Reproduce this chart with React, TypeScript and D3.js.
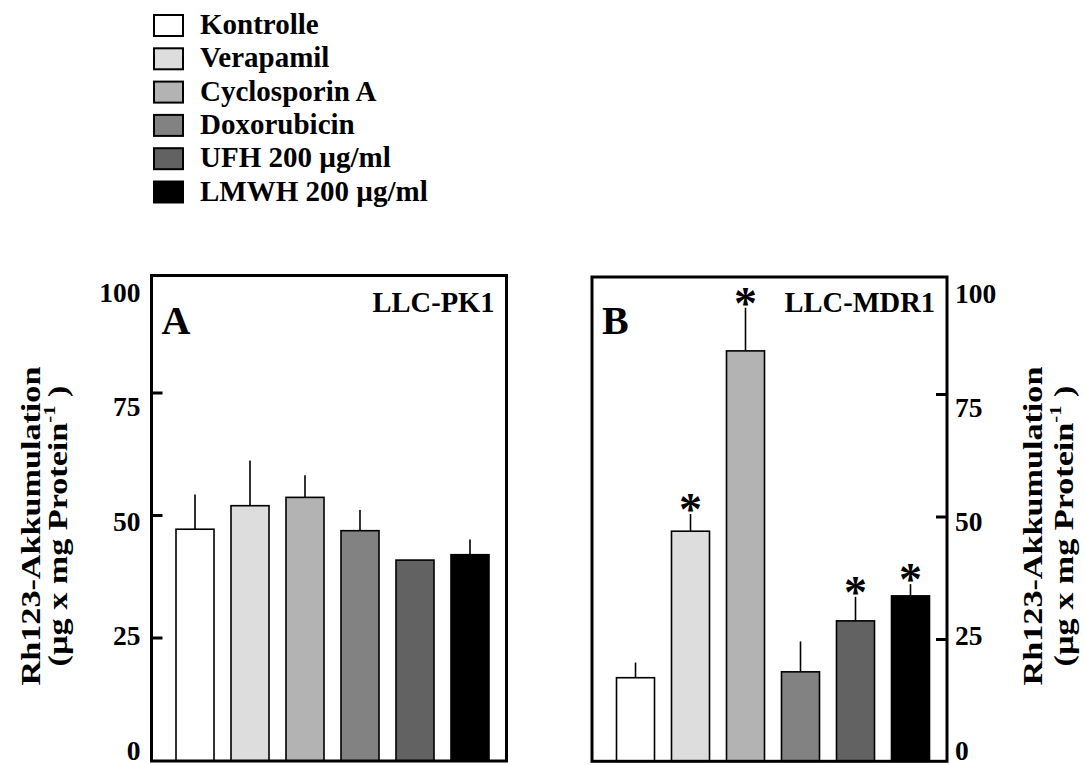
import React from 'react';
import * as d3 from 'd3';

const categories = ['Kontrolle', 'Verapamil', 'Cyclosporin A', 'Doxorubicin', 'UFH 200 µg/ml', 'LMWH 200 µg/ml'];
const colors = ['#ffffff', '#dddddd', '#b3b3b3', '#828282', '#626262', '#000000'];
const valuesA = [47.2, 52.0, 53.7, 46.9, 40.9, 42.0];
const errorsA = [7.1, 9.2, 4.5, 4.2, 0, 3.1];
const valuesB = [17.2, 47.1, 83.9, 18.4, 28.8, 33.9];
const errorsB = [3.1, 3.5, 8.8, 6.2, 4.9, 2.4];
const sigB = [false, true, true, false, true, true];
const tickValues = [0, 25, 50, 75, 100];
const innerTicks = [25, 50, 75];

const FONT = '"Liberation Serif", "Times New Roman", Times, serif';

type PanelProps = {
  left: number;
  right: number;
  top: number;
  bottom: number;
  y0: number;
  values: number[];
  errors: number[];
  sig: boolean[];
  letter: string;
  name: string;
  side: 'left' | 'right';
  labelRange: [number, number];
};

function Panel(p: PanelProps) {
  const y = d3.scaleLinear().domain([0, 100]).range([p.y0, p.y0 - 490]);
  const labelY = d3.scaleLinear().domain([0, 100]).range(p.labelRange);
  const x = d3
    .scaleBand<string>()
    .domain(categories)
    .range([p.left + 24.5, p.left + 24.5 + 313])
    .paddingInner(0.309)
    .paddingOuter(0);
  const bw = x.bandwidth();
  const tickLen = 11;
  return (
    <g>
      {categories.map((c, i) => {
        const v = p.values[i];
        const e = p.errors[i];
        const cx = (x(c) as number) + bw / 2;
        return (
          <g key={c}>
            {e > 0 && (
              <line x1={cx} x2={cx} y1={y(v)} y2={y(v + e)} stroke="#000" strokeWidth={1.6} />
            )}
            <rect
              x={x(c) as number}
              y={y(v)}
              width={bw}
              height={p.bottom - y(v)}
              fill={colors[i]}
              stroke="#000"
              strokeWidth={1.6}
            />
            {p.sig[i] && (
              <text
                x={cx}
                y={y(v + e) + 11}
                textAnchor="middle"
                fontFamily={FONT}
                fontWeight="bold"
                fontSize={46}
              >
                *
              </text>
            )}
          </g>
        );
      })}
      <rect
        x={p.left}
        y={p.top}
        width={p.right - p.left}
        height={p.bottom - p.top}
        fill="none"
        stroke="#000"
        strokeWidth={3}
      />
      {innerTicks.map((t) => (
        <line
          key={t}
          x1={p.side === 'left' ? p.left : p.right}
          x2={p.side === 'left' ? p.left + tickLen : p.right - tickLen}
          y1={y(t)}
          y2={y(t)}
          stroke="#000"
          strokeWidth={3}
        />
      ))}
      {tickValues.map((t) => (
        <text
          key={t}
          x={p.side === 'left' ? p.left - 11 : p.right + 8}
          y={labelY(t)}
          textAnchor={p.side === 'left' ? 'end' : 'start'}
          fontFamily={FONT}
          fontWeight="bold"
          fontSize={27.5}
        >
          {t}
        </text>
      ))}
      <text x={p.left + 10} y={334} fontFamily={FONT} fontWeight="bold" fontSize={40}>
        {p.letter}
      </text>
      <text
        x={p.right - 12}
        y={312}
        textAnchor="end"
        fontFamily={FONT}
        fontWeight="bold"
        fontSize={28.5}
      >
        {p.name}
      </text>
    </g>
  );
}

function YLabel({ x1, x2, cy }: { x1: number; x2: number; cy: number }) {
  return (
    <g fontFamily={FONT} fontWeight="bold" fontSize={28}>
      <text transform={`translate(${x1},${cy}) rotate(-90) scale(1.22,1)`} textAnchor="middle">
        Rh123-Akkumulation
      </text>
      <text transform={`translate(${x2},${cy}) rotate(-90) scale(1.22,1)`} textAnchor="middle">
        <tspan>(µg x mg Protein</tspan>
        <tspan fontSize={17} dy={-12}>-1</tspan>
        <tspan dy={12}> )</tspan>
      </text>
    </g>
  );
}

export default function App() {
  return (
    <svg
      width={1085}
      height={765}
      style={{ position: 'absolute', left: 0, top: 0, background: '#fff' }}
    >
      <rect width={1085} height={765} fill="#fff" />
      {categories.map((c, i) => (
        <g key={c}>
          <rect
            x={154}
            y={15 + i * 33.3}
            width={29}
            height={21}
            fill={colors[i]}
            stroke="#000"
            strokeWidth={2}
          />
          <text x={200} y={34 + i * 33.3} fontFamily={FONT} fontWeight="bold" fontSize={29}>
            {c}
          </text>
        </g>
      ))}
      <Panel
        left={151.5}
        right={506.5}
        top={275.5}
        bottom={761}
        y0={760.5}
        values={valuesA}
        errors={errorsA}
        sig={[false, false, false, false, false, false]}
        letter="A"
        name="LLC-PK1"
        side="left"
        labelRange={[759.5, 301.7]}
      />
      <Panel
        left={592}
        right={947}
        top={277}
        bottom={761.3}
        y0={762}
        values={valuesB}
        errors={errorsB}
        sig={sigB}
        letter="B"
        name="LLC-MDR1"
        side="right"
        labelRange={[759.5, 303.3]}
      />
      <YLabel x1={40} x2={67} cy={526} />
      <YLabel x1={1041.5} x2={1073} cy={526} />
    </svg>
  );
}
